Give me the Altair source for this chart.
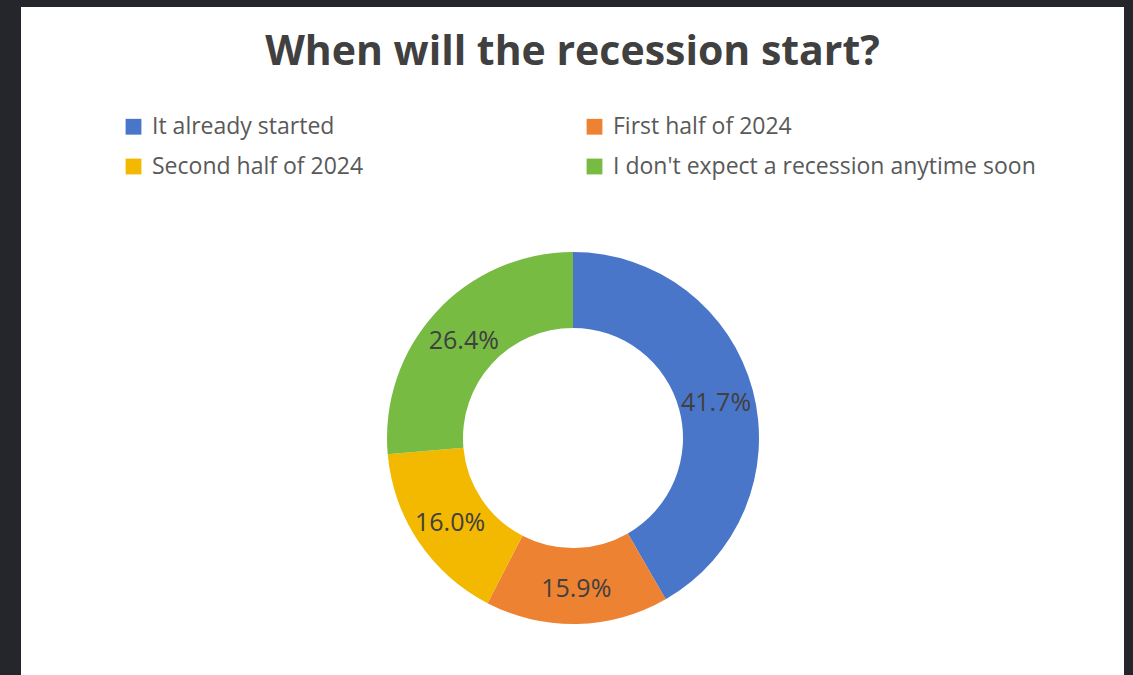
import altair as alt
import pandas as pd

categories = ["It already started", "First half of 2024", "Second half of 2024",
              "I don't expect a recession anytime soon"]
shares = [41.7, 15.9, 16.0, 26.4]
labels = ["41.7%", "15.9%", "16.0%", "26.4%"]
colors = ["#4A76C9", "#ED8232", "#F2B900", "#77BB43"]

df = pd.DataFrame({"category": categories, "share": shares, "label": labels,
                   "order": list(range(len(categories)))})

FONT = "Open Sans"
color = alt.Color("category:N", scale=alt.Scale(domain=categories, range=colors),
                  legend=alt.Legend(title=None, orient="none", legendX=101, legendY=108,
                                    direction="horizontal", columns=2, columnPadding=219,
                                    rowPadding=16,
                                    symbolType="square", symbolSize=250, symbolStrokeWidth=0,
                                    labelFont=FONT, labelFontSize=23, labelColor="#595959",
                                    labelOffset=7, labelLimit=0))

cx, cy = 552, 431
base = alt.Chart(df).encode(
    theta=alt.Theta("share:Q", stack=True),
    order=alt.Order("order:Q"),
)
arcs = base.mark_arc(innerRadius=110, outerRadius=186, strokeWidth=0).encode(
    color=color, x=alt.value(cx), y=alt.value(cy))
texts = base.mark_text(radius=148, font=FONT, fontSize=25, color="#404040", dy=3).encode(
    text="label:N", x=alt.value(cx), y=alt.value(cy))

chart = alt.layer(arcs, texts).properties(
    width=1103, height=668,
    padding={"left": 21, "top": 7, "right": 9, "bottom": 0},
    autosize=alt.AutoSizeParams(type="none"),
    background="#25262B",
    title=alt.TitleParams("When will the recession start?", font=FONT, fontSize=41,
                          fontWeight="bold", color="#404040", anchor="middle",
                          baseline="alphabetic", offset=0, dy=99),
).configure_view(fill="white", stroke=None)

chart.save("out.html", embed_options={"renderer": "svg", "actions": False})
